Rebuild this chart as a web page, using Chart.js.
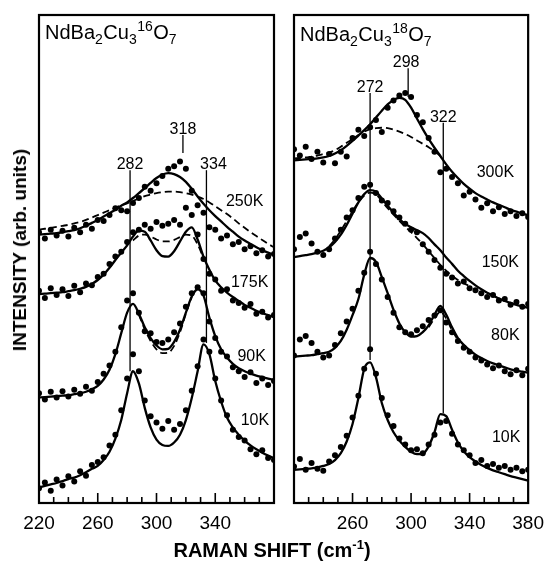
<!DOCTYPE html>
<html><head><meta charset="utf-8">
<script src="https://cdn.jsdelivr.net/npm/chart.js@4.4.1/dist/chart.umd.min.js"></script>
<style>
html,body{margin:0;padding:0;background:#fff;}
#wrap{position:relative;width:553px;height:564px;overflow:hidden;background:#fff;}
canvas{position:absolute;left:0;top:0;}
.ttl{position:absolute;font-family:"Liberation Sans",Arial,Helvetica,sans-serif;font-weight:bold;font-size:19px;line-height:22px;color:#000;white-space:nowrap;transform:translate(-50%,-50%);}
</style></head><body>
<div id="wrap">
<canvas id="cL" width="553" height="564"></canvas>
<canvas id="cR" width="553" height="564"></canvas>
<div class="ttl" style="left:272px;top:551px;font-size:20px;">RAMAN SHIFT (cm<span style="font-size:13px;position:relative;top:-8px;">-1</span>)</div>
<div class="ttl" style="left:20px;top:250px;transform:translate(-50%,-50%) rotate(-90deg);">INTENSITY (arb. units)</div>
</div>
<script>
// ---- data ----
const shift = [220,224,228,232,236,240,244,248,252,256,260,264,268,272,276,280,284,288,292,296,300,304,308,312,316,320,324,328,332,336,340,344,348,352,356,360,364,368,372,376,380];
const leftTickLabels = [220,260,300,340];
const rightTickLabels = [260,300,340,380];
const minorTicks = [230,240,250,260,270,280,290,300,310,320,330,340,350,360,370];
const majorTicks = [260,300,340];
const leftPeaks = [282,318,334];
const rightPeaks = [272,298,322];
const leftTemps = ['250K','175K','90K','10K'];
const rightTemps = ['300K','150K','80K','10K'];

// NdBa2Cu3(16)O7
const L10_dots = [3.0,4.2,2.5,4.8,3.6,5.5,4.4,6.5,5.6,7.8,8.4,9.4,11.8,14.0,19.0,25.5,30.5,27.0,21.0,17.8,16.5,15.2,16.8,15.0,16.2,19.0,23.0,28.0,33.5,31.0,25.5,21.0,18.0,15.0,13.5,12.8,11.0,10.0,10.8,9.2,8.8];
const L10_fit = [3.2,3.5,3.8,4.1,4.5,4.9,5.2,5.7,6.3,7.0,7.6,8.8,10.5,13.2,17.0,22.5,27.0,24.5,19.5,15.5,13.0,11.9,11.7,12.4,14.0,17.0,21.5,27.0,32.5,30.5,25.0,20.8,17.5,15.5,14.0,12.8,11.8,11.0,10.3,9.7,9.2];
const L90_dots = [22.5,21.2,22.8,21.6,22.9,21.8,23.2,22.4,23.8,23.0,24.8,26.5,28.2,31.0,36.0,41.5,43.0,39.0,35.2,34.8,33.0,32.8,33.5,35.0,36.8,40.2,43.0,44.2,43.0,37.2,33.8,31.0,30.0,27.8,27.0,25.8,26.8,24.6,25.5,24.2,25.0];
const L90_fit = [21.6,21.7,21.8,21.9,22.0,22.1,22.3,22.5,22.8,23.3,24.0,25.3,27.3,30.5,34.8,39.0,40.8,38.8,36.0,33.8,32.3,31.5,31.6,33.0,35.5,39.0,42.3,43.8,42.5,38.0,34.2,31.5,29.8,28.5,27.6,27.0,26.5,26.1,25.8,25.5,25.2];
const L90_dash = [null,null,null,null,null,null,null,null,null,null,null,null,null,null,null,null,null,38.6,35.6,33.2,31.5,30.7,30.8,32.2,35.0,38.8,42.2,null,null,null,null,null,null,null,null,null,null,null,null,null,null];
const L175_dots = [43.5,42.0,44.0,42.6,43.8,42.4,44.5,43.2,45.0,44.6,46.3,47.0,49.0,50.5,51.5,53.5,55.5,56.0,57.0,56.2,57.6,56.8,57.2,58.0,57.0,60.5,59.0,55.0,50.0,47.0,45.8,43.5,43.8,41.5,41.0,40.0,40.8,38.8,39.2,38.0,38.5];
const L175_fit = [42.8,42.9,43.0,43.1,43.2,43.4,43.6,43.9,44.3,44.9,45.7,46.8,48.2,49.8,51.3,52.8,54.6,55.8,55.6,53.8,51.8,50.6,50.5,51.6,53.6,55.6,56.5,54.0,50.5,47.8,45.6,44.2,43.1,42.2,41.4,40.6,40.0,39.4,38.9,38.5,38.1];
const L175_dash = [null,null,null,null,null,null,null,null,null,null,null,null,null,null,null,null,53.8,54.8,55.0,54.6,54.0,53.6,53.6,53.9,54.5,55.0,54.8,53.0,50.2,null,null,null,null,null,null,null,null,null,null,null,null];
const L250_dots = [55.5,54.2,56.0,54.8,55.8,54.6,56.4,55.5,57.0,56.2,58.0,57.8,59.0,60.4,60.0,59.8,61.5,62.5,64.8,64.0,65.5,67.0,68.5,69.0,70.0,68.5,64.0,61.0,59.5,56.5,56.0,54.2,54.8,53.0,53.5,52.0,52.6,51.2,51.8,50.5,51.0];
const L250_fit = [55.0,55.1,55.2,55.3,55.5,55.7,55.9,56.3,56.8,57.4,58.0,58.7,59.4,60.1,60.9,61.6,62.5,63.5,64.5,65.6,66.6,67.3,67.6,67.4,66.8,65.8,64.4,62.8,61.3,60.0,58.8,57.7,56.6,55.6,54.6,53.8,53.1,52.4,51.8,51.3,50.8];
const L250_dash = [56.0,56.2,56.4,56.6,56.8,57.0,57.3,57.6,58.0,58.5,59.0,59.5,60.0,60.5,61.0,61.4,61.9,62.4,62.9,63.2,63.5,63.7,63.8,63.8,63.7,63.5,63.2,62.8,62.3,61.6,60.8,60.0,59.2,58.3,57.3,56.4,55.5,54.7,53.9,53.1,52.4];

// NdBa2Cu3(18)O7
const R10_dots = [7.5,9.0,6.8,8.2,7.0,6.6,8.5,9.8,11.5,13.8,17.5,22.0,27.5,31.5,26.5,21.5,18.0,15.8,13.2,12.0,10.8,11.0,10.2,12.0,14.0,16.5,16.8,14.2,12.0,10.8,9.8,8.2,8.8,7.6,8.0,7.2,7.6,6.8,7.2,6.5,6.8];
const R10_fit = [6.8,6.9,7.0,7.1,7.3,7.6,8.0,8.8,10.2,12.6,16.2,21.5,27.5,28.8,25.8,20.5,17.0,14.5,12.8,11.5,10.5,10.0,10.1,11.6,14.5,18.2,17.8,15.0,12.4,10.6,9.4,8.5,7.8,7.2,6.7,6.3,5.9,5.5,5.2,4.9,4.6];
const R80_dots = [30.2,33.5,34.2,32.8,31.0,29.8,30.2,32.4,34.8,37.2,39.8,43.5,47.2,51.5,49.0,45.8,42.2,39.0,36.0,35.0,34.6,35.4,36.2,37.5,38.4,39.5,37.0,35.0,33.2,31.8,31.0,29.8,29.2,28.4,27.6,28.2,27.0,26.4,27.2,26.2,27.5];
const R80_fit = [30.0,30.1,30.2,30.3,30.5,30.7,31.0,31.8,33.2,35.5,38.5,41.8,46.8,50.2,49.4,46.3,43.0,39.6,36.8,35.0,34.1,34.2,35.0,36.4,38.6,40.4,38.6,36.0,33.8,32.4,31.3,30.4,29.7,29.1,28.6,28.2,27.8,27.4,27.1,26.9,26.7];
const R80_dash = [null,null,null,null,null,null,null,null,null,null,null,null,null,null,null,null,null,null,null,null,null,null,null,36.0,37.8,39.2,37.8,35.4,33.4,null,null,null,null,null,null,null,null,null,null,null,null];
const R150_dots = [52.0,54.5,55.2,53.2,51.5,50.8,52.0,54.2,56.0,58.5,60.0,62.5,64.8,65.2,63.5,62.0,61.5,59.8,58.5,57.2,56.0,55.5,53.0,51.5,49.8,48.2,47.0,46.2,45.0,45.4,44.0,43.6,43.0,42.2,42.6,41.5,41.8,40.6,41.2,40.2,40.8];
const R150_fit = [50.4,50.6,50.8,51.0,51.3,51.7,52.4,53.5,55.0,57.0,59.3,61.6,63.3,64.1,63.8,62.4,60.9,59.5,58.2,57.2,56.5,55.9,55.3,54.3,53.0,51.8,50.3,49.0,47.6,46.5,45.5,44.6,43.8,43.1,42.5,41.9,41.4,41.0,40.6,40.3,40.0];
const R150_dash = [null,null,null,null,null,null,52.6,54.0,55.8,57.8,59.8,61.6,63.0,63.6,63.2,61.9,60.4,59.1,57.8,56.6,55.5,54.3,53.0,51.6,50.2,48.8,47.6,46.6,45.7,45.0,44.5,null,null,null,null,null,null,null,null,null,null];
const R300_dots = [72.5,71.2,73.0,70.5,72.0,69.8,71.5,69.6,72.0,71.0,74.8,76.5,75.2,77.0,78.5,76.0,81.0,82.5,83.5,84.0,83.2,79.5,78.0,74.8,72.0,67.8,68.5,66.8,65.5,63.0,63.8,62.2,60.5,61.4,59.8,60.6,59.2,59.8,58.8,59.4,58.6];
const R300_fit = [70.2,70.3,70.4,70.5,70.6,70.8,71.1,71.6,72.3,73.2,74.2,75.3,76.4,77.6,79.0,80.4,81.7,82.6,83.0,82.6,81.0,78.8,76.6,74.6,72.8,71.1,69.4,67.9,66.6,65.4,64.4,63.5,62.8,62.2,61.6,61.1,60.6,60.1,59.7,59.3,59.0];
const R300_dash = [70.6,70.7,70.8,71.0,71.2,71.5,71.8,72.3,73.0,73.8,74.6,75.4,76.1,76.6,76.8,76.9,76.8,76.5,76.1,75.6,75.0,74.3,73.6,72.9,72.1,71.1,null,null,null,null,null,null,null,null,null,null,null,null,null,null,null];

// ---- helpers ----
const FONT = '"Liberation Sans", Arial, Helvetica, sans-serif';
function pts(arr){ return shift.map((x,i)=>({x:x, y:arr[i]})); }
function dotsDS(arr){ return {data:pts(arr), showLine:false, pointRadius:3, pointHoverRadius:0, pointBackgroundColor:'#000', pointBorderWidth:0}; }
function fitDS(arr){ return {data:pts(arr), showLine:true, pointRadius:0, borderColor:'#000', borderWidth:2.3, cubicInterpolationMode:'monotone', fill:false}; }
function dashDS(arr){ return {data:pts(arr), showLine:true, pointRadius:0, borderColor:'#000', borderWidth:1.8, borderDash:[7,4], cubicInterpolationMode:'monotone', fill:false, spanGaps:false}; }

function drawFormula(ctx, segs, x, y){
  segs.forEach(s => {
    const t = s[0], k = s[1];
    const size = k === 'n' ? 20 : 14;
    const dy = k === 'sub' ? 5 : (k === 'sup' ? -8 : 0);
    ctx.font = size + 'px ' + FONT;
    ctx.fillText(t, x, y + dy);
    x += ctx.measureText(t).width + (k === 'n' ? 0 : 0.5);
  });
}

const panelPlugin = {
  id: 'panel',
  afterDatasetsDraw(chart, args, opts){
    const ctx = chart.ctx, ca = chart.chartArea;
    const xs = chart.scales.x, ys = chart.scales.y;
    ctx.save();
    ctx.strokeStyle = '#000'; ctx.fillStyle = '#000';
    // frame
    ctx.lineWidth = 2.2;
    ctx.strokeRect(ca.left, ca.top, ca.right - ca.left, ca.bottom - ca.top);
    // inward ticks
    ctx.lineWidth = 1.6;
    minorTicks.forEach(v => {
      const x = xs.getPixelForValue(v);
      const len = majorTicks.includes(v) ? 10 : 6;
      ctx.beginPath(); ctx.moveTo(x, ca.bottom); ctx.lineTo(x, ca.bottom - len); ctx.stroke();
    });
    // peak markers
    ctx.lineWidth = 1.3;
    ctx.textAlign = 'center'; ctx.textBaseline = 'alphabetic';
    ctx.font = '16px ' + FONT;
    opts.peaks.forEach((p, i) => {
      const sp = opts.spans[i];
      const x = xs.getPixelForValue(p);
      const y1 = ys.getPixelForValue(sp[0]), y2 = ys.getPixelForValue(sp[1]);
      ctx.beginPath(); ctx.moveTo(x, y1); ctx.lineTo(x, y2); ctx.stroke();
      ctx.fillText(String(p), x + opts.dx[i], y2 - 1);
    });
    // temperature labels
    ctx.textBaseline = 'middle';
    opts.temps.forEach((t, i) => {
      const pos = opts.tempPos[i];
      ctx.fillText(t, xs.getPixelForValue(pos[0]), ys.getPixelForValue(pos[1]));
    });
    // title
    ctx.textAlign = 'left'; ctx.textBaseline = 'alphabetic';
    drawFormula(ctx, opts.title, ca.left + opts.titleDx, opts.titleY);
    ctx.restore();
  }
};

function makeChart(id, datasets, tickVals, padding, panelOpts){
  return new Chart(document.getElementById(id), {
    type: 'scatter',
    data: { datasets: datasets },
    options: {
      responsive: false, animation: false, devicePixelRatio: 1,
      layout: { padding: padding },
      plugins: { legend: {display:false}, tooltip: {enabled:false}, panel: panelOpts },
      scales: {
        x: {
          type: 'linear', min: 220, max: 380,
          grid: { display: false, drawTicks: false },
          border: { display: false },
          ticks: { color: '#000', font: { family: FONT, size: 19 }, padding: 9, maxRotation: 0, autoSkip: false },
          afterBuildTicks: s => { s.ticks = tickVals.map(v => ({value: v})); },
          afterFit: s => { s.height = 30; }
        },
        y: { type: 'linear', min: 0, max: 100, display: false }
      }
    },
    plugins: [panelPlugin]
  });
}

makeChart('cL', [
  dotsDS(L10_dots), fitDS(L10_fit),
  dotsDS(L90_dots), fitDS(L90_fit), dashDS(L90_dash),
  dotsDS(L175_dots), fitDS(L175_fit), dashDS(L175_dash),
  dotsDS(L250_dots), fitDS(L250_fit), dashDS(L250_dash)
], leftTickLabels, {left:39, right:279, top:15, bottom:31}, {
  peaks: leftPeaks,
  spans: [[27, 68.2], [71.7, 75.4], [32.8, 68.2]],
  dx: [0, 0, 7],
  temps: leftTemps,
  tempPos: [[360, 61.7], [363.4, 45.1], [364.8, 30.1], [367, 16.8]],
  title: [['NdBa','n'],['2','sub'],['Cu','n'],['3','sub'],['16','sup'],['O','n'],['7','sub']],
  titleDx: 6, titleY: 39
});

makeChart('cR', [
  dotsDS(R10_dots), fitDS(R10_fit),
  dotsDS(R80_dots), fitDS(R80_fit), dashDS(R80_dash),
  dotsDS(R150_dots), fitDS(R150_fit), dashDS(R150_dash),
  dotsDS(R300_dots), fitDS(R300_fit), dashDS(R300_dash)
], rightTickLabels, {left:294, right:22, top:15, bottom:31}, {
  peaks: rightPeaks,
  spans: [[29.3, 84.0], [83.2, 89.1], [18.4, 77.9]],
  dx: [0, -2, 0],
  temps: rightTemps,
  tempPos: [[357.6, 67.8], [361, 49.2], [364.4, 34.4], [365, 13.5]],
  title: [['NdBa','n'],['2','sub'],['Cu','n'],['3','sub'],['18','sup'],['O','n'],['7','sub']],
  titleDx: 6, titleY: 41
});
</script>
</body></html>
